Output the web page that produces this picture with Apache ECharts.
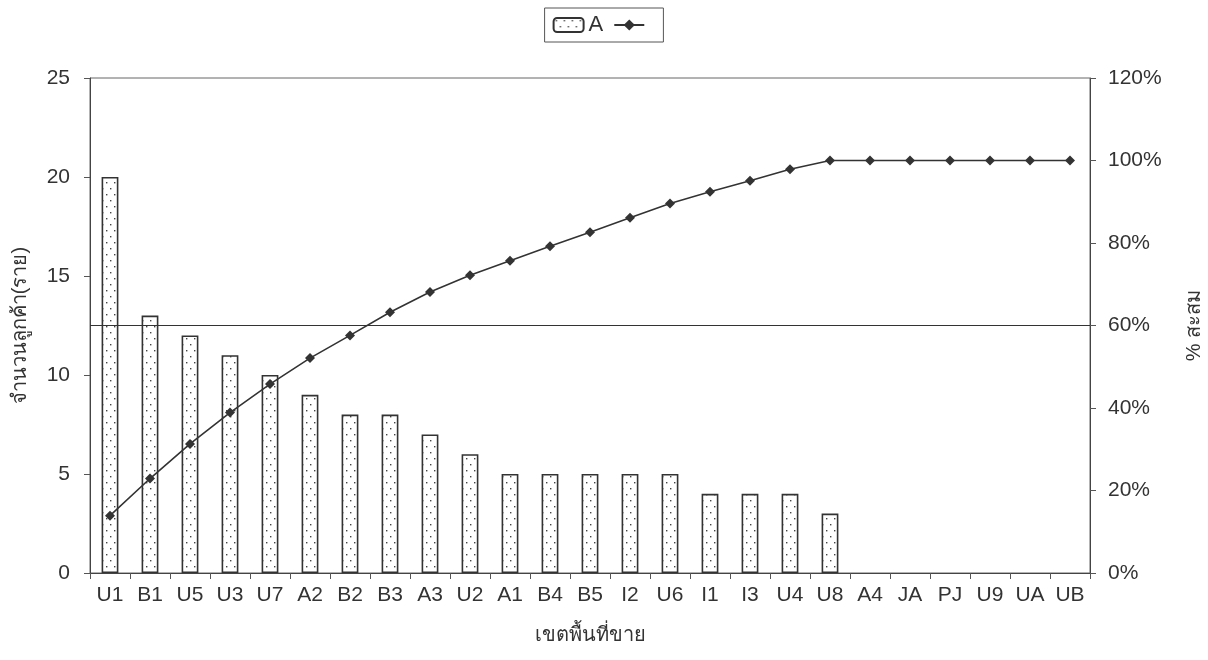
<!DOCTYPE html>
<html>
<head>
<meta charset="utf-8">
<script src="https://cdn.jsdelivr.net/npm/echarts@6/dist/echarts.min.js"></script>
<style>
  html, body { margin: 0; padding: 0; background: #fff; }
  #chart { width: 1208px; height: 660px; }
</style>
</head>
<body>
<div id="chart"></div>
<script>
// เขตพื้นที่ขาย
var categories = ["U1", "B1", "U5", "U3", "U7", "A2", "B2", "B3", "A3", "U2", "A1", "B4", "B5",
  "I2", "U6", "I1", "I3", "U4", "U8", "A4", "JA", "PJ", "U9", "UA", "UB"];
// จำนวนลูกค้า (ราย)
var customers = [20, 13, 12, 11, 10, 9, 8, 8, 7, 6, 5, 5, 5, 5, 5, 4, 4, 4, 3, 0, 0, 0, 0, 0, 0];
// % สะสม
var cumulative = [13.9, 22.9, 31.3, 38.9, 45.8, 52.1, 57.6, 63.2, 68.1, 72.2, 75.7, 79.2, 82.6,
  86.1, 89.6, 92.4, 95.1, 97.9, 100, 100, 100, 100, 100, 100, 100];
var leftTicks = { min: 0, max: 25, interval: 5 };
var rightTicks = { min: 0, max: 120, interval: 20 };
var refLine = 60;

// dotted fill like the scanned bars
function dotPattern() {
  var c = document.createElement("canvas");
  c.width = 8;
  c.height = 12;
  var ctx = c.getContext("2d");
  ctx.fillStyle = "#fff";
  ctx.fillRect(0, 0, 8, 12);
  ctx.fillStyle = "#444";
  ctx.fillRect(2, 2, 1.4, 1.4);
  ctx.fillRect(6, 8, 1.4, 1.4);
  return c;
}

// zero bars are not drawn at all in the original, so drop their outline
var barData = customers.map(function (v) {
  return v === 0 ? { value: v, itemStyle: { borderWidth: 0 } } : v;
});

var font = "'Liberation Sans', Arial, 'Noto Sans', sans-serif";
var chart = echarts.init(document.getElementById("chart"));
chart.setOption({
  backgroundColor: "#fff",
  animation: false,
  textStyle: { fontFamily: font },
  legend: {
    top: 8,
    left: "center",
    data: ["A", " "],
    borderColor: "#555",
    borderWidth: 1,
    padding: [6, 8],
    itemGap: 10,
    itemWidth: 30,
    itemHeight: 14,
    textStyle: { fontSize: 22, color: "#333", fontFamily: font }
  },
  grid: {
    left: 90,
    right: 118,
    top: 78,
    bottom: 87,
    outerBoundsMode: "none",
    show: true,
    borderColor: "#666",
    borderWidth: 1
  },
  xAxis: {
    type: "category",
    data: categories,
    boundaryGap: true,
    name: "เขตพื้นที่ขาย",
    nameLocation: "middle",
    nameGap: 52,
    nameTextStyle: { fontSize: 20, color: "#333" },
    axisLine: { lineStyle: { color: "#444", width: 1 } },
    axisTick: { show: true, interval: 0, length: 6, lineStyle: { color: "#555" } },
    axisLabel: { interval: 0, fontSize: 21, color: "#333", margin: 12 }
  },
  yAxis: [
    {
      type: "value",
      min: leftTicks.min,
      max: leftTicks.max,
      interval: leftTicks.interval,
      name: "จำนวนลูกค้า(ราย)",
      nameLocation: "middle",
      nameRotate: 90,
      nameGap: 60,
      nameTextStyle: { fontSize: 20, color: "#333" },
      axisLine: { show: true, lineStyle: { color: "#444" } },
      axisTick: { show: true, length: 6, lineStyle: { color: "#555" } },
      axisLabel: { fontSize: 21, color: "#333", margin: 20 },
      splitLine: { show: false }
    },
    {
      type: "value",
      position: "right",
      min: rightTicks.min,
      max: rightTicks.max,
      interval: rightTicks.interval,
      name: "% สะสม",
      nameLocation: "middle",
      nameRotate: 90,
      nameGap: 94,
      nameTextStyle: { fontSize: 20, color: "#333" },
      axisLine: { show: true, lineStyle: { color: "#444" } },
      axisTick: { show: true, length: 6, lineStyle: { color: "#555" } },
      axisLabel: { fontSize: 21, color: "#333", margin: 18, formatter: "{value}%" },
      splitLine: { show: false }
    }
  ],
  series: [
    {
      name: "A",
      type: "bar",
      yAxisIndex: 0,
      data: barData,
      barWidth: "42%",
      itemStyle: {
        color: { image: dotPattern(), repeat: "repeat" },
        borderColor: "#333",
        borderWidth: 1.6
      }
    },
    {
      name: " ",
      type: "line",
      yAxisIndex: 1,
      data: cumulative,
      symbol: "diamond",
      symbolSize: 10,
      itemStyle: { color: "#333" },
      lineStyle: { color: "#333", width: 1.6 },
      markLine: {
        silent: true,
        symbol: "none",
        label: { show: false },
        lineStyle: { color: "#333", width: 1, type: "solid" },
        data: [{ yAxis: refLine }]
      }
    }
  ]
});
</script>
</body>
</html>
